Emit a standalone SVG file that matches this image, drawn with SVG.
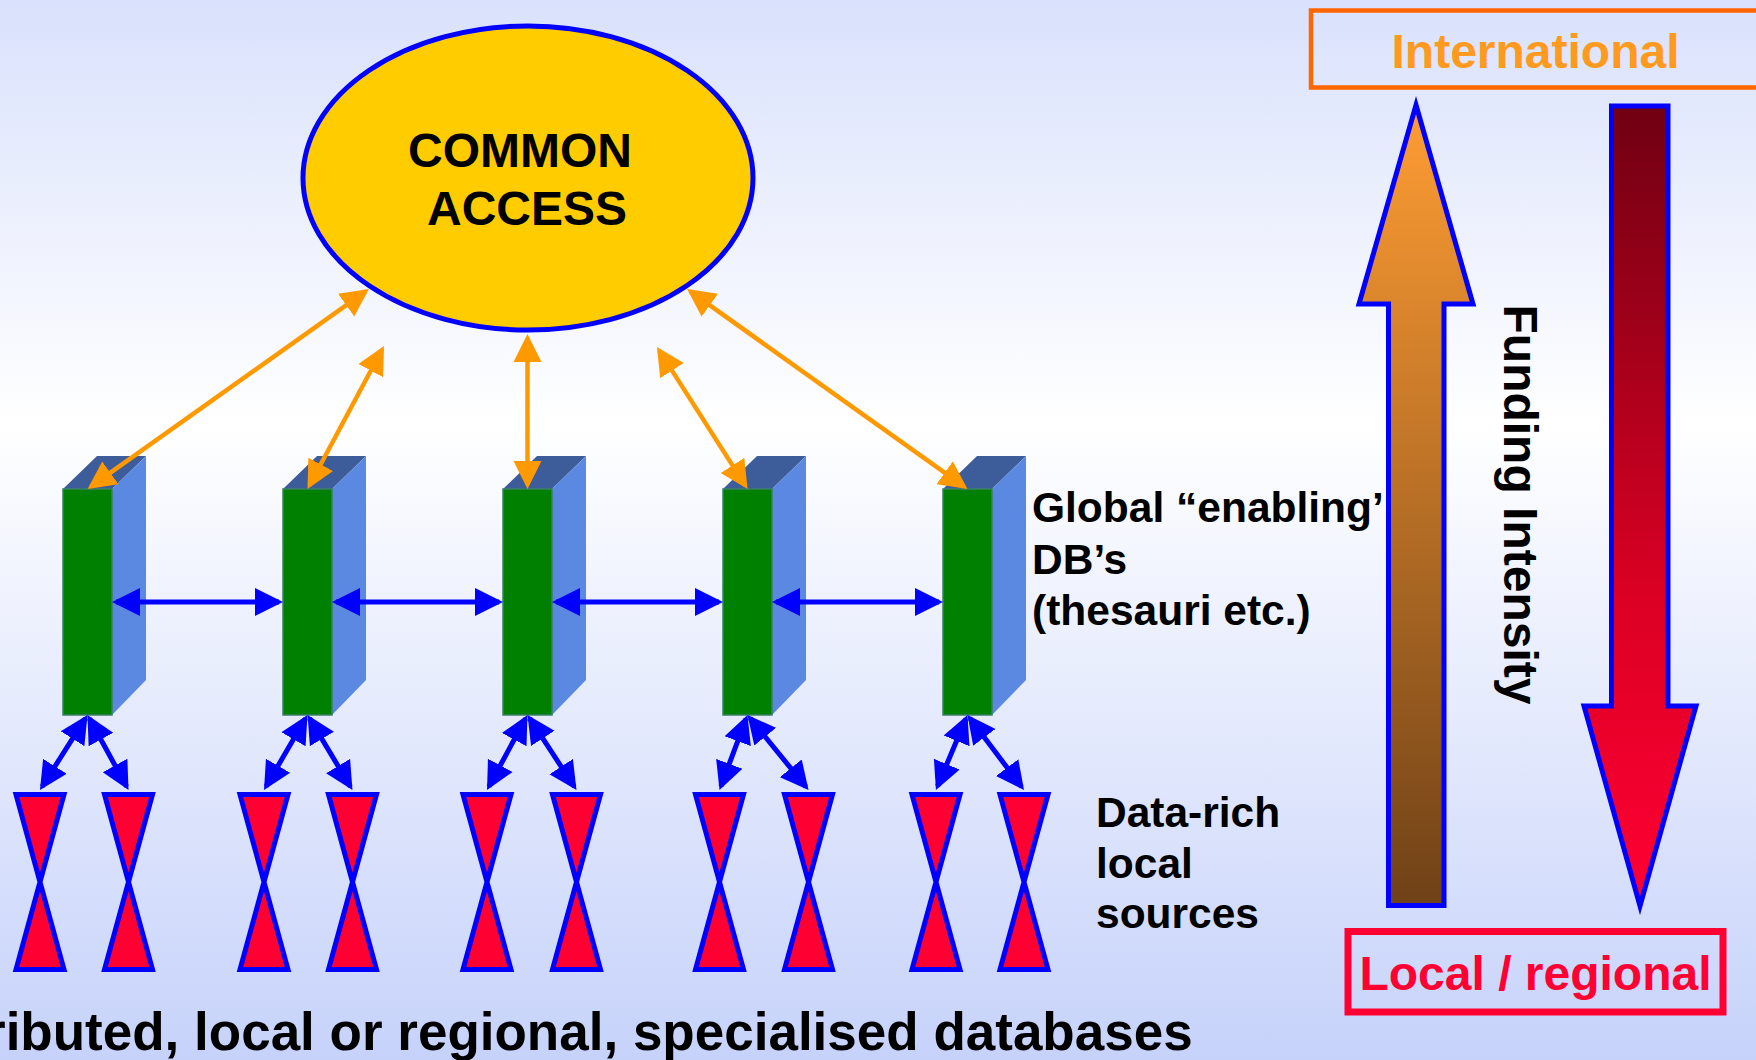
<svg xmlns="http://www.w3.org/2000/svg" xmlns:xlink="http://www.w3.org/1999/xlink" width="1756" height="1060" viewBox="0 0 1756 1060">
  <style>
    .t { font-family: "Liberation Sans", Arial, sans-serif; font-weight: bold; fill: #000000; }
    .lbl { font-size: 42.5px; }
    .front { fill: #008000; stroke: #3A7F66; stroke-width: 1.5; }
    .top { fill: #3D5C9A; }
    .side { fill: #5B88E0; }
    .hg { fill: #FF0033; stroke: #0000FF; stroke-width: 5; stroke-linejoin: miter; }
    .orange { fill: none; stroke: #FF9900; stroke-width: 4.5; }
    .blue { fill: none; stroke: #0000FF; stroke-width: 5; }
    .bigarrow { stroke: #0000FF; stroke-width: 5; stroke-linejoin: miter; stroke-miterlimit: 10; }
  </style>
  <defs>
    <linearGradient id="bg" x1="0" y1="0" x2="0" y2="1060" gradientUnits="userSpaceOnUse">
      <stop offset="0" stop-color="#D9E1FC"/>
      <stop offset="0.4" stop-color="#FFFFFF"/>
      <stop offset="1" stop-color="#C6D2FA"/>
    </linearGradient>
    <linearGradient id="upGrad" x1="0" y1="103" x2="0" y2="906" gradientUnits="userSpaceOnUse">
      <stop offset="0" stop-color="#FF9D34"/>
      <stop offset="1" stop-color="#6F4117"/>
    </linearGradient>
    <linearGradient id="downGrad" x1="0" y1="106" x2="0" y2="906" gradientUnits="userSpaceOnUse">
      <stop offset="0" stop-color="#700012"/>
      <stop offset="0.62" stop-color="#DC0024"/>
      <stop offset="1" stop-color="#FF0033"/>
    </linearGradient>
    <marker id="arrO" viewBox="0 -15 30 30" refX="24" refY="0" markerWidth="30" markerHeight="30" markerUnits="userSpaceOnUse" orient="auto-start-reverse">
      <path d="M0,-14 L28,0 L0,14 Z" fill="#FF9900"/>
    </marker>
    <marker id="arrB" viewBox="0 -15 30 30" refX="24" refY="0" markerWidth="30" markerHeight="30" markerUnits="userSpaceOnUse" orient="auto-start-reverse">
      <path d="M0,-14 L28,0 L0,14 Z" fill="#0000FF"/>
    </marker>
    <g id="blk">
      <polygon class="top" points="0,489 34,456 83,456 49,489"/>
      <polygon class="side" points="49,489 83,456 83,680 49,715"/>
      <rect class="front" x="0" y="489" width="49" height="226"/>
    </g>
    <path id="hgShape" class="hg" d="M-24,794.5 L24,794.5 L0,882 Z M0,882 L24,969.5 L-24,969.5 Z"/>
  </defs>

  <rect x="0" y="0" width="1756" height="1060" fill="url(#bg)"/>

  <g id="common-access">
    <ellipse cx="528" cy="178" rx="225" ry="152" fill="#FFCC00" stroke="#0000FF" stroke-width="5"/>
    <text class="t" x="520" y="167" font-size="48" text-anchor="middle">COMMON</text>
    <text class="t" x="527" y="225" font-size="48" text-anchor="middle">ACCESS</text>
  </g>

  <g id="db-1"><use xlink:href="#blk" x="63"/></g>
  <g id="db-2"><use xlink:href="#blk" x="283"/></g>
  <g id="db-3"><use xlink:href="#blk" x="503"/></g>
  <g id="db-4"><use xlink:href="#blk" x="723"/></g>
  <g id="db-5"><use xlink:href="#blk" x="943"/></g>

  <g id="src-1"><use xlink:href="#hgShape" x="40"/></g>
  <g id="src-2"><use xlink:href="#hgShape" x="128.5"/></g>
  <g id="src-3"><use xlink:href="#hgShape" x="264"/></g>
  <g id="src-4"><use xlink:href="#hgShape" x="352.5"/></g>
  <g id="src-5"><use xlink:href="#hgShape" x="487"/></g>
  <g id="src-6"><use xlink:href="#hgShape" x="576.5"/></g>
  <g id="src-7"><use xlink:href="#hgShape" x="719.5"/></g>
  <g id="src-8"><use xlink:href="#hgShape" x="808.5"/></g>
  <g id="src-9"><use xlink:href="#hgShape" x="936"/></g>
  <g id="src-10"><use xlink:href="#hgShape" x="1024"/></g>

  <g id="label-global">
    <text class="t lbl" x="1032" y="522">Global “enabling’</text>
    <text class="t lbl" x="1032" y="574">DB’s</text>
    <text class="t lbl" x="1032" y="625">(thesauri etc.)</text>
  </g>

  <g id="label-sources">
    <text class="t lbl" x="1096" y="827">Data-rich</text>
    <text class="t lbl" x="1096" y="878">local</text>
    <text class="t lbl" x="1096" y="928">sources</text>
  </g>

  <g id="label-bottom">
    <text class="t" x="-15" y="1050" font-size="53">ributed, local or regional, specialised databases</text>
  </g>

  <g id="connectors">
    <path class="orange" marker-start="url(#arrO)" marker-end="url(#arrO)" d="M365.7,291.3 L90.8,486.7"/>
    <path class="orange" marker-start="url(#arrO)" marker-end="url(#arrO)" d="M382.1,349.5 L309.4,485.5"/>
    <path class="orange" marker-start="url(#arrO)" marker-end="url(#arrO)" d="M527.5,338 L527.5,485"/>
    <path class="orange" marker-start="url(#arrO)" marker-end="url(#arrO)" d="M659.1,350.4 L745.4,485.6"/>
    <path class="orange" marker-start="url(#arrO)" marker-end="url(#arrO)" d="M690.3,291.3 L964.2,486.7"/>

    <path class="blue" marker-start="url(#arrB)" marker-end="url(#arrB)" d="M116,602 H279"/>
    <path class="blue" marker-start="url(#arrB)" marker-end="url(#arrB)" d="M336,602 H499"/>
    <path class="blue" marker-start="url(#arrB)" marker-end="url(#arrB)" d="M556,602 H719"/>
    <path class="blue" marker-start="url(#arrB)" marker-end="url(#arrB)" d="M776,602 H939"/>

    <path class="blue" marker-start="url(#arrB)" marker-end="url(#arrB)" d="M85.4,718.4 L42.1,786.6"/>
    <path class="blue" marker-start="url(#arrB)" marker-end="url(#arrB)" d="M89.4,718.5 L126.6,786.5"/>
    <path class="blue" marker-start="url(#arrB)" marker-end="url(#arrB)" d="M305.5,718.5 L266,786.5"/>
    <path class="blue" marker-start="url(#arrB)" marker-end="url(#arrB)" d="M309.6,718.4 L350.4,786.6"/>
    <path class="blue" marker-start="url(#arrB)" marker-end="url(#arrB)" d="M525.6,718.5 L488.9,786.5"/>
    <path class="blue" marker-start="url(#arrB)" marker-end="url(#arrB)" d="M529.7,718.3 L574.3,786.7"/>
    <path class="blue" marker-start="url(#arrB)" marker-end="url(#arrB)" d="M746.1,718.7 L720.9,786.3"/>
    <path class="blue" marker-start="url(#arrB)" marker-end="url(#arrB)" d="M750,718.1 L806,786.9"/>
    <path class="blue" marker-start="url(#arrB)" marker-end="url(#arrB)" d="M965.9,718.7 L937.5,786.3"/>
    <path class="blue" marker-start="url(#arrB)" marker-end="url(#arrB)" d="M969.9,718.2 L1021.6,786.8"/>
  </g>

  <g id="international">
    <rect x="1311" y="10.5" width="470" height="77" fill="none" stroke="#FF6600" stroke-width="4.5"/>
    <text class="t" x="1535.5" y="68" font-size="48" text-anchor="middle" style="fill:#FF9A1E">International</text>
  </g>

  <g id="arrow-up">
    <polygon class="bigarrow" fill="url(#upGrad)" points="1416,105 1473,304 1444,304 1444,905.5 1388.5,905.5 1388.5,304 1359,304"/>
  </g>

  <g id="arrow-down">
    <polygon class="bigarrow" fill="url(#downGrad)" points="1611.5,106 1668,106 1668,706 1696,706 1640,906 1584,706 1611.5,706"/>
  </g>

  <g id="funding-intensity">
    <text class="t" font-size="48" transform="translate(1503.5,304.5) rotate(90)">Funding Intensity</text>
  </g>

  <g id="local-regional">
    <rect x="1348" y="931.5" width="375" height="80.5" fill="none" stroke="#FF0033" stroke-width="7"/>
    <text class="t" x="1535.5" y="990" font-size="48" text-anchor="middle" style="fill:#FF0033">Local / regional</text>
  </g>
</svg>
